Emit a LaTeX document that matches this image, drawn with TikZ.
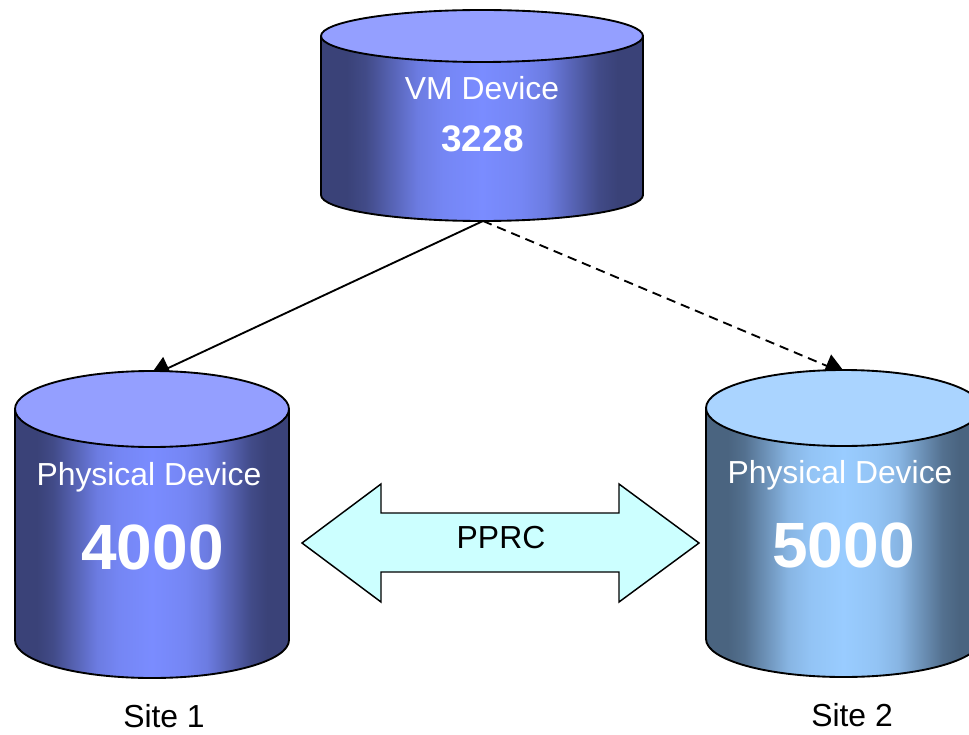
\documentclass[tikz,border=0pt]{standalone}
\usepackage{fontspec}
\setmainfont{Liberation Sans}
\usetikzlibrary{arrows.meta}
\definecolor{blueedge}{HTML}{3A4278}
\definecolor{bluemid}{HTML}{7A8CFF}
\definecolor{bluetop}{HTML}{949FFF}
\definecolor{skyedge}{HTML}{4A6480}
\definecolor{skymid}{HTML}{99CCFF}
\definecolor{skytop}{HTML}{AAD4FF}
\definecolor{pprcfill}{HTML}{CCFFFF}
\colorlet{bluea}{bluemid!12!blueedge}
\colorlet{blueb}{bluemid!45!blueedge}
\colorlet{bluec}{bluemid!78!blueedge}
\colorlet{blued}{bluemid!92!blueedge}
\colorlet{skya}{skymid!12!skyedge}
\colorlet{skyb}{skymid!45!skyedge}
\colorlet{skyc}{skymid!78!skyedge}
\colorlet{skyd}{skymid!92!skyedge}
\pgfdeclarehorizontalshading{bluebody}{100bp}{color(0bp)=(blueedge); color(25bp)=(blueedge); color(29bp)=(blueedge); color(32bp)=(bluea); color(36bp)=(blueb); color(40bp)=(bluec); color(44bp)=(blued); color(50bp)=(bluemid); color(56bp)=(blued); color(60bp)=(bluec); color(64bp)=(blueb); color(68bp)=(bluea); color(71bp)=(blueedge); color(75bp)=(blueedge); color(100bp)=(blueedge)}
\pgfdeclarehorizontalshading{skybody}{100bp}{color(0bp)=(skyedge); color(25bp)=(skyedge); color(29bp)=(skyedge); color(32bp)=(skya); color(36bp)=(skyb); color(40bp)=(skyc); color(44bp)=(skyd); color(50bp)=(skymid); color(56bp)=(skyd); color(60bp)=(skyc); color(64bp)=(skyb); color(68bp)=(skya); color(71bp)=(skyedge); color(75bp)=(skyedge); color(100bp)=(skyedge)}
\tikzset{
  px/.style={x=0.75pt,y=-0.75pt},
  outline/.style={draw=black,line width=1.4pt},
  thinoutline/.style={draw=black,line width=1.1pt},
  link/.style={draw=black,line width=1.4pt,-{Triangle[length=16pt,width=18pt]}},
  whitetext/.style={text=white,inner sep=0pt,anchor=center},
  blacktext/.style={text=black,inner sep=0pt,anchor=center},
  lbl/.style={font=\fontsize{23.9}{26}\selectfont},
  bignum/.style={font=\fontsize{48}{52}\selectfont\bfseries},
  midnum/.style={font=\fontsize{27.7}{30}\selectfont\bfseries},
}
\newcommand{\drum}[7]{% cx, top cy, bottom cy, rx, ry, body shading, top colour
  \shade[shading=#6] (#1-#4,#2) -- (#1-#4,#3) arc[start angle=180,end angle=360,x radius=#4,y radius=-#5]
     -- (#1+#4,#2) -- cycle;
  \draw[outline] (#1-#4,#2) -- (#1-#4,#3) arc[start angle=180,end angle=360,x radius=#4,y radius=-#5] -- (#1+#4,#2);
  \draw[outline,fill=#7] (#1,#2) ellipse[x radius=#4,y radius=#5];
}
\begin{document}
\begin{tikzpicture}[px]
\useasboundingbox (0,0) rectangle (969,734);
\clip (0,0) rectangle (969,734);
\coordinate (vmbottom) at (483,221);
\coordinate (lefttip) at (149,377);
\coordinate (righttip) at (846,374);
\draw[link] (vmbottom) -- (lefttip);
\draw[link,dashed,dash pattern=on 7pt off 4.5pt] (vmbottom) -- (righttip);
\drum{482}{36}{195}{161}{26}{bluebody}{bluetop}
\drum{152}{409}{640}{137}{38}{bluebody}{bluetop}
\drum{843.5}{408}{639}{137.5}{38}{skybody}{skytop}
\draw[thinoutline,fill=pprcfill] (302,543) -- (381,484) -- (381,513) -- (619,513) -- (619,484)
  -- (699,543) -- (619,602) -- (619,572) -- (381,572) -- (381,602) -- cycle;
\node[whitetext,lbl] (vmlabel) at (482,88) {VM Device};
\node[whitetext,midnum] (vmnum) at (482.5,138.5) {3228};
\node[whitetext,lbl] (p1label) at (149,477) {Physical Device};
\node[whitetext,bignum] (p1num) at (152.5,547) {4000};
\node[whitetext,lbl] (p2label) at (840,475) {Physical Device};
\node[whitetext,bignum] (p2num) at (843.5,545) {5000};
\node[blacktext,lbl] (pprc) at (501,538) {PPRC};
\node[blacktext,lbl] (site1) at (164,716.5) {Site 1};
\node[blacktext,lbl] (site2) at (852,715) {Site 2};
\end{tikzpicture}
\end{document}
